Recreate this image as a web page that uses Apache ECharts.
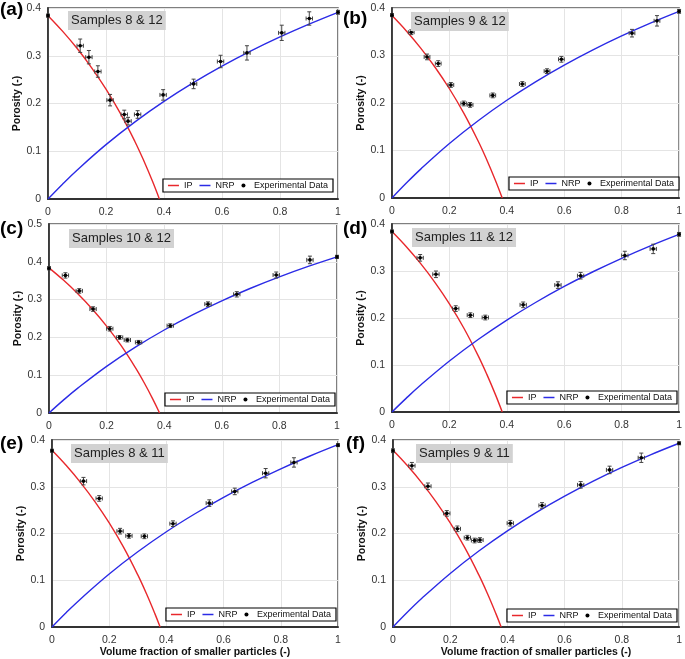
<!DOCTYPE html>
<html>
<head>
<meta charset="utf-8">
<script src="https://cdn.jsdelivr.net/npm/echarts@6/dist/echarts.min.js"></script>
<style>html,body{margin:0;padding:0;background:#fff}#c{width:685px;height:659px}</style>
</head>
<body>
<div id="c"></div>
<script>
// ---- Data ----
const panelLabels = ['(a)', '(b)', '(c)', '(d)', '(e)', '(f)'];
const panelTitles = ['Samples 8 & 12', 'Samples 9 & 12', 'Samples 10 & 12', 'Samples 11 & 12', 'Samples 8 & 11', 'Samples 9 & 11'];
const yMax = [0.4, 0.4, 0.5, 0.4, 0.4, 0.4];

// IP model curve (x, porosity)
const ipX1 = [0, 0.05, 0.1, 0.15, 0.2, 0.25, 0.3, 0.33, 0.36, 0.384];
const ipY1 = [0.384, 0.3516, 0.3156, 0.2753, 0.230, 0.1787, 0.1200, 0.0806, 0.0375, 0];
const ipX2 = [0, 0.05, 0.1, 0.15, 0.2, 0.25, 0.3, 0.33, 0.36, 0.378];
const ipY2 = [0.378, 0.3453, 0.3089, 0.2682, 0.2225, 0.1707, 0.1114, 0.0716, 0.0281, 0];

// NRP model curve
const nrpX = [0, 0.05, 0.1, 0.2, 0.3, 0.4, 0.5, 0.6, 0.7, 0.8, 0.9, 1.0];
const nrpA = [0, 0.0311, 0.0603, 0.1138, 0.1615, 0.2043, 0.2430, 0.2781, 0.3101, 0.3393, 0.3662, 0.391];
const nrpB = [0, 0.0314, 0.0608, 0.1146, 0.1626, 0.2057, 0.2446, 0.2798, 0.3119, 0.3412, 0.3682, 0.393];
const nrpC = [0, 0.0340, 0.0657, 0.1234, 0.1743, 0.2196, 0.2602, 0.2968, 0.3300, 0.3601, 0.3877, 0.413];
const nrpD = [0, 0.0295, 0.0573, 0.1084, 0.1542, 0.1956, 0.2330, 0.2672, 0.2984, 0.3271, 0.3536, 0.378];
const nrpE = [0, 0.0310, 0.0601, 0.1134, 0.1609, 0.2037, 0.2422, 0.2773, 0.3092, 0.3384, 0.3652, 0.390];
const nrpF = nrpB;

// Experimental data
const aX = [0.0, 0.111, 0.141, 0.172, 0.214, 0.263, 0.276, 0.309, 0.397, 0.502, 0.595, 0.686, 0.806, 0.901, 1.0];
const aY = [0.384, 0.321, 0.297, 0.267, 0.207, 0.177, 0.163, 0.177, 0.218, 0.241, 0.288, 0.306, 0.348, 0.378, 0.391];
const aYErr = [0.003, 0.014, 0.014, 0.012, 0.012, 0.009, 0.008, 0.008, 0.011, 0.010, 0.013, 0.015, 0.016, 0.014, 0.004];
const aXErr = [0.004, 0.011, 0.011, 0.011, 0.011, 0.011, 0.011, 0.011, 0.011, 0.011, 0.011, 0.011, 0.011, 0.011, 0.004];

const bX = [0.0, 0.067, 0.122, 0.161, 0.205, 0.250, 0.272, 0.351, 0.454, 0.540, 0.590, 0.836, 0.923, 1.0];
const bY = [0.385, 0.349, 0.297, 0.283, 0.238, 0.199, 0.196, 0.216, 0.240, 0.267, 0.292, 0.347, 0.373, 0.393];
const bYErr = [0.003, 0.005, 0.006, 0.006, 0.005, 0.005, 0.005, 0.005, 0.005, 0.005, 0.006, 0.008, 0.011, 0.004];
const bXErr = [0.004, 0.010, 0.010, 0.010, 0.010, 0.010, 0.010, 0.010, 0.010, 0.010, 0.010, 0.010, 0.010, 0.004];

const cX = [0.0, 0.057, 0.105, 0.153, 0.211, 0.245, 0.272, 0.311, 0.421, 0.552, 0.652, 0.789, 0.906, 1.0];
const cY = [0.383, 0.364, 0.323, 0.275, 0.223, 0.200, 0.193, 0.187, 0.231, 0.288, 0.314, 0.365, 0.405, 0.413];
const cYErr = [0.004, 0.007, 0.006, 0.006, 0.006, 0.005, 0.005, 0.005, 0.005, 0.006, 0.007, 0.008, 0.010, 0.004];
const cXErr = [0.004, 0.011, 0.011, 0.011, 0.011, 0.011, 0.011, 0.011, 0.011, 0.011, 0.011, 0.011, 0.011, 0.004];

const dX = [0.0, 0.098, 0.153, 0.222, 0.273, 0.325, 0.457, 0.578, 0.657, 0.811, 0.910, 1.0];
const dY = [0.384, 0.328, 0.293, 0.220, 0.206, 0.201, 0.228, 0.270, 0.290, 0.333, 0.347, 0.378];
const dYErr = [0.003, 0.007, 0.007, 0.006, 0.005, 0.005, 0.006, 0.007, 0.007, 0.009, 0.010, 0.004];
const dXErr = [0.004, 0.011, 0.011, 0.011, 0.011, 0.011, 0.011, 0.011, 0.011, 0.011, 0.011, 0.004];

const eX = [0.0, 0.110, 0.165, 0.238, 0.269, 0.323, 0.423, 0.550, 0.639, 0.747, 0.846, 1.0];
const eY = [0.377, 0.312, 0.275, 0.205, 0.195, 0.194, 0.221, 0.265, 0.290, 0.329, 0.352, 0.389];
const eYErr = [0.003, 0.008, 0.006, 0.006, 0.005, 0.005, 0.006, 0.007, 0.007, 0.010, 0.010, 0.003];
const eXErr = [0.004, 0.011, 0.011, 0.011, 0.011, 0.011, 0.011, 0.011, 0.011, 0.011, 0.011, 0.004];

const fX = [0.0, 0.066, 0.122, 0.188, 0.225, 0.260, 0.285, 0.304, 0.410, 0.521, 0.656, 0.757, 0.868, 1.0];
const fY = [0.377, 0.345, 0.301, 0.243, 0.210, 0.191, 0.185, 0.186, 0.222, 0.260, 0.304, 0.336, 0.362, 0.393];
const fYErr = [0.004, 0.007, 0.007, 0.006, 0.006, 0.005, 0.005, 0.005, 0.006, 0.006, 0.007, 0.008, 0.010, 0.003];
const fXErr = [0.004, 0.011, 0.011, 0.011, 0.011, 0.011, 0.011, 0.011, 0.011, 0.011, 0.011, 0.011, 0.011, 0.004];

// ---- Assemble ----
const expSets = [
  [aX, aY, aXErr, aYErr], [bX, bY, bXErr, bYErr], [cX, cY, cXErr, cYErr],
  [dX, dY, dXErr, dYErr], [eX, eY, eXErr, eYErr], [fX, fY, fXErr, fYErr]
];
const ipSets = [[ipX1, ipY1], [ipX1, ipY1], [ipX1, ipY1], [ipX1, ipY1], [ipX2, ipY2], [ipX2, ipY2]];
const nrpSets = [nrpA, nrpB, nrpC, nrpD, nrpE, nrpF];

// layout (pixels)
const grids = [
  {left: 48, top: 8, width: 290, height: 191},
  {left: 392, top: 8, width: 289, height: 190},
  {left: 49, top: 224, width: 288, height: 189},
  {left: 392, top: 224, width: 288, height: 188},
  {left: 52, top: 440, width: 286, height: 188},
  {left: 393, top: 440, width: 287, height: 188}
];
const labelPos = [[0, 0], [343, 9], [0, 219], [343, 219], [0, 434], [346, 434]];
const titlePos = [[68, 11], [411, 12], [69, 229], [412, 228], [71, 444], [416, 444]];
const legendPos = [[352, 179], [6, 177], [350, 393], [8, 391], [349, 608], [8, 609]];

const zip = (xs, ys) => xs.map((x, i) => [x, ys[i]]);
const FONT = 'Liberation Sans, Arial, sans-serif';
const LINE_ICON = 'path://M0,0H22V3H0Z';

function renderErr(params, api) {
  const x = api.value(0), y = api.value(1), ex = api.value(2), ey = api.value(3);
  const c = api.coord([x, y]);
  const l = api.coord([x - ex, y]), r = api.coord([x + ex, y]);
  const t = api.coord([x, y + ey]), b = api.coord([x, y - ey]);
  const cap = 2;
  const st = {stroke: '#444', lineWidth: 1};
  return {
    type: 'group',
    children: [
      {type: 'line', shape: {x1: l[0], y1: c[1], x2: r[0], y2: c[1]}, style: st},
      {type: 'line', shape: {x1: c[0], y1: t[1], x2: c[0], y2: b[1]}, style: st},
      {type: 'line', shape: {x1: c[0] - cap, y1: t[1], x2: c[0] + cap, y2: t[1]}, style: st},
      {type: 'line', shape: {x1: c[0] - cap, y1: b[1], x2: c[0] + cap, y2: b[1]}, style: st},
      {type: 'line', shape: {x1: l[0], y1: c[1] - cap, x2: l[0], y2: c[1] + cap}, style: st},
      {type: 'line', shape: {x1: r[0], y1: c[1] - cap, x2: r[0], y2: c[1] + cap}, style: st},
      {type: 'circle', shape: {cx: c[0], cy: c[1], r: 1.8}, style: {fill: '#000'}}
    ]
  };
}

const option = {
  animation: false,
  backgroundColor: '#fff',
  textStyle: {fontFamily: FONT},
  title: [],
  legend: [],
  grid: [],
  xAxis: [],
  yAxis: [],
  series: []
};

for (let i = 0; i < 6; i++) {
  const g = grids[i];
  option.grid.push(Object.assign({show: true, borderColor: '#555', borderWidth: 1.5, backgroundColor: '#fff'}, g));
  option.xAxis.push({
    type: 'value', gridIndex: i, min: 0, max: 1, interval: 0.2,
    axisLine: {show: true, lineStyle: {color: '#333', width: 1.8}}, axisTick: {show: false},
    axisLabel: {color: '#333', fontSize: 10.5, margin: 8, fontFamily: FONT},
    splitLine: {show: true, lineStyle: {color: '#e4e4e4', width: 1}},
    name: i >= 4 ? 'Volume fraction of smaller particles (-)' : '',
    nameLocation: 'middle', nameGap: 20,
    nameTextStyle: {fontSize: 10.5, fontWeight: 'bold', color: '#111', fontFamily: FONT}
  });
  option.yAxis.push({
    type: 'value', gridIndex: i, min: 0, max: yMax[i], interval: 0.1,
    axisLine: {show: true, lineStyle: {color: '#333', width: 1.8}}, axisTick: {show: false},
    axisLabel: {color: '#333', fontSize: 10.5, margin: 7, fontFamily: FONT},
    splitLine: {show: true, lineStyle: {color: '#e4e4e4', width: 1}},
    name: 'Porosity (-)', nameLocation: 'middle', nameGap: 25,
    nameTextStyle: {fontSize: 10.5, fontWeight: 'bold', color: '#111', fontFamily: FONT}
  });
  option.title.push({
    text: panelLabels[i], left: labelPos[i][0], top: labelPos[i][1], padding: 0,
    textStyle: {fontSize: 19, fontWeight: 'bold', color: '#000', fontFamily: FONT}
  });
  option.title.push({
    text: panelTitles[i], left: titlePos[i][0], top: titlePos[i][1], padding: [3, 3],
    backgroundColor: '#d2d2d2',
    textStyle: {fontSize: 13, fontWeight: 'normal', color: '#222', fontFamily: FONT}
  });
  option.legend.push({
    right: legendPos[i][0], top: legendPos[i][1],
    data: [
      {name: 'IP', icon: LINE_ICON},
      {name: 'NRP', icon: LINE_ICON},
      {name: 'Experimental Data', icon: 'circle'}
    ],
    itemWidth: 11, itemHeight: 4, itemGap: 7,
    padding: [2, 5], backgroundColor: '#fff', borderColor: '#000', borderWidth: 1.2, borderRadius: 0,
    textStyle: {fontSize: 9, color: '#111', fontFamily: FONT},
    selectedMode: false
  });
  const ip = ipSets[i];
  option.series.push({
    name: 'IP', type: 'line', xAxisIndex: i, yAxisIndex: i, smooth: 0.4,
    symbol: 'none', data: zip(ip[0], ip[1]),
    lineStyle: {color: '#e8282c', width: 1.4}, itemStyle: {color: '#e8282c'}, z: 3
  });
  option.series.push({
    name: 'NRP', type: 'line', xAxisIndex: i, yAxisIndex: i, smooth: 0.4,
    symbol: 'none', data: zip(nrpX, nrpSets[i]),
    lineStyle: {color: '#2b2be6', width: 1.4}, itemStyle: {color: '#2b2be6'}, z: 3
  });
  const e = expSets[i];
  option.series.push({
    name: 'Experimental Data', type: 'custom', xAxisIndex: i, yAxisIndex: i,
    renderItem: renderErr, encode: {x: 0, y: 1}, clip: false,
    itemStyle: {color: '#000'}, z: 4,
    data: e[0].map((x, k) => [x, e[1][k], e[2][k], e[3][k]])
  });
}

const chart = echarts.init(document.getElementById('c'), null, {renderer: 'canvas'});
chart.setOption(option);
</script>
</body>
</html>
